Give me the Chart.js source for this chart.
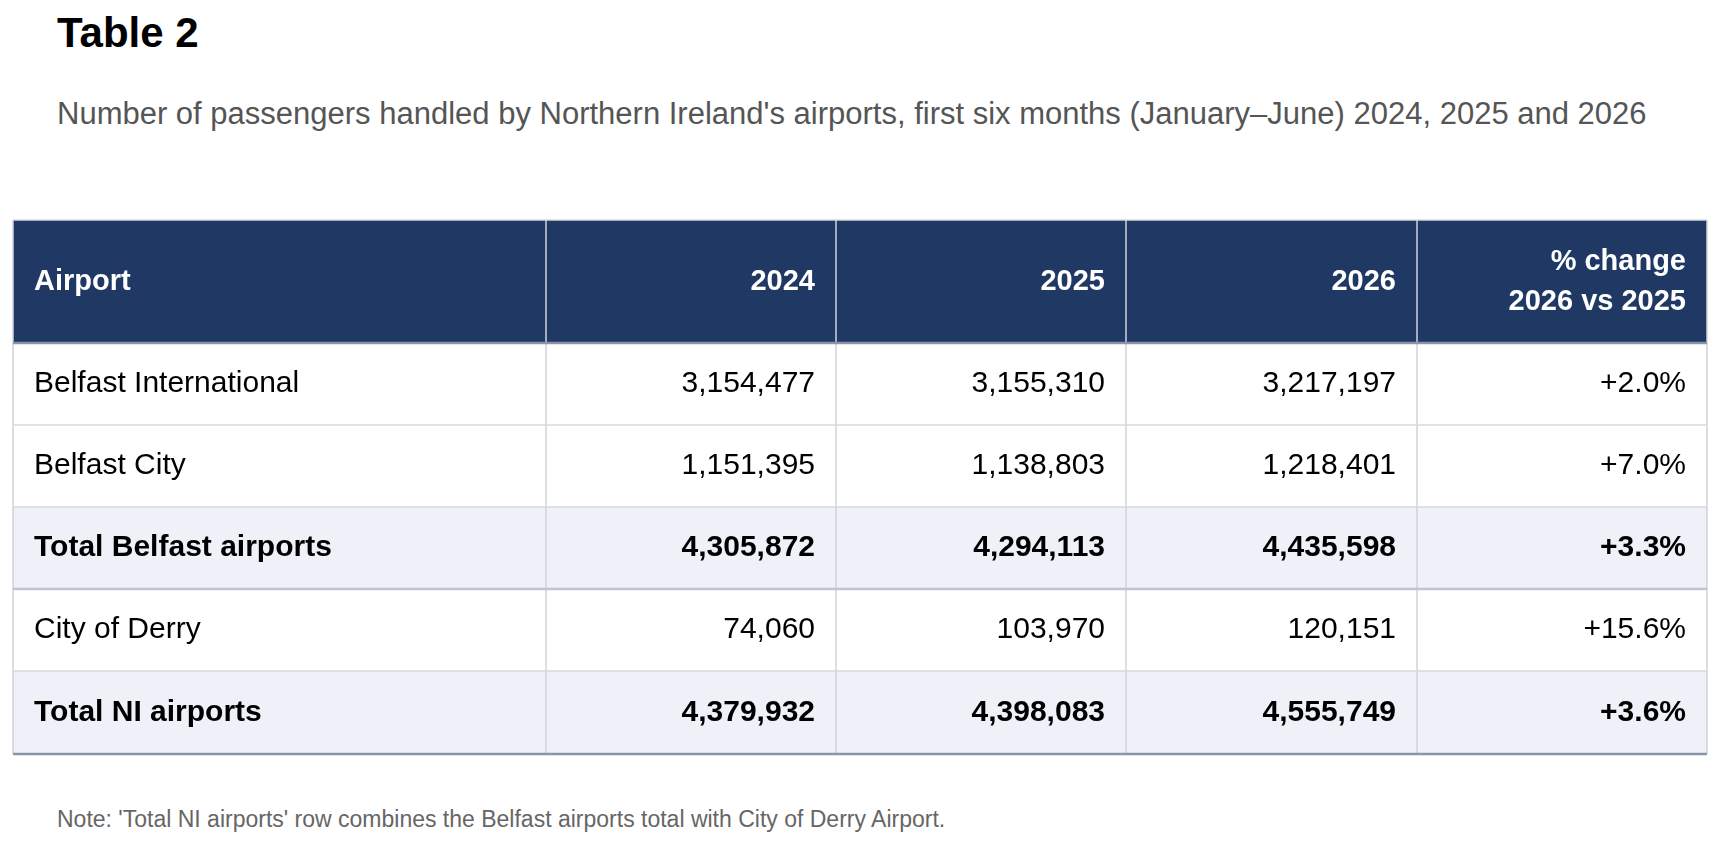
<!DOCTYPE html>
<html>
<head>
<meta charset="utf-8">
<script src="https://cdn.jsdelivr.net/npm/chart.js@4"></script>
<style>
  body { margin: 0; background: #fff; font-family: "Liberation Sans", Arial, sans-serif; width: 1716px; height: 846px; position: relative; overflow: hidden; }
  h1 { position: absolute; left: 57px; top: 9px; margin: 0; font-size: 42px; font-weight: bold; color: #000; }
  .sub { position: absolute; left: 57px; top: 93px; width: 1620px; margin: 0; font-size: 31px; line-height: 41px; color: #555; }
  .note { position: absolute; left: 57px; top: 806px; margin: 0; font-size: 23px; color: #666; }
  #wrap { position: absolute; left: 11px; top: 218px; width: 1698px; height: 540px; }
</style>
</head>
<body>
<h1>Table 2</h1>
<p class="sub">Number of passengers handled by Northern Ireland's airports, first six months (January–June) 2024, 2025 and 2026</p>
<div id="wrap"><canvas id="tbl" width="1698" height="540"></canvas></div>
<p class="note">Note: 'Total NI airports' row combines the Belfast airports total with City of Derry Airport.</p>
<script>
// Table data
const headers = ['Airport', '2024', '2025', '2026', '% change\n2026 vs 2025'];
const airports = ['Belfast International', 'Belfast City', 'Total Belfast airports', 'City of Derry', 'Total NI airports'];
const pax2024 = [3154477, 1151395, 4305872, 74060, 4379932];
const pax2025 = [3155310, 1138803, 4294113, 103970, 4398083];
const pax2026 = [3217197, 1218401, 4435598, 120151, 4555749];
const pctChange = ['+2.0%', '+7.0%', '+3.3%', '+15.6%', '+3.6%'];
const totalRows = [false, false, true, false, true];

// Layout in scale units (column and row edges)
const colEdges = [0, 533, 823, 1113, 1404, 1694];
const rowEdges = [0, 123, 205, 287, 369, 451, 534];
const W = 1694, H = 534;

const fmt = n => n.toLocaleString('en-GB');

const tablePlugin = {
  id: 'tablePlugin',
  afterDraw(chart) {
    const ctx = chart.ctx;
    const xs = chart.scales.x, ys = chart.scales.y;
    const X = v => xs.getPixelForValue(v);
    const Y = v => ys.getPixelForValue(v);
    ctx.save();
    // header
    ctx.fillStyle = '#1f3864';
    ctx.fillRect(X(0), Y(rowEdges[0]), X(W) - X(0), Y(rowEdges[1]) - Y(rowEdges[0]));
    ctx.font = 'bold 29px "Liberation Sans", Arial';
    ctx.fillStyle = '#fff';
    ctx.textBaseline = 'middle';
    headers.forEach((h, c) => {
      const lines = h.split('\n');
      const mid = (Y(rowEdges[0]) + Y(rowEdges[1])) / 2;
      lines.forEach((ln, i) => {
        const yy = mid + (i - (lines.length - 1) / 2) * 40;
        if (c === 0) { ctx.textAlign = 'left'; ctx.fillText(ln, X(colEdges[0]) + 21, yy); }
        else { ctx.textAlign = 'right'; ctx.fillText(ln, X(colEdges[c + 1]) - 21, yy); }
      });
    });
    // body rows
    airports.forEach((a, r) => {
      const top = Y(rowEdges[r + 1]), bot = Y(rowEdges[r + 2]);
      if (totalRows[r]) {
        ctx.fillStyle = '#eef1f8';
        ctx.fillRect(X(0), top, X(W) - X(0), bot - top);
      }
      const cells = [a, fmt(pax2024[r]), fmt(pax2025[r]), fmt(pax2026[r]), pctChange[r]];
      ctx.font = (totalRows[r] ? 'bold ' : '') + '30px "Liberation Sans", Arial';
      ctx.fillStyle = '#000';
      const mid = (top + bot) / 2;
      cells.forEach((t, c) => {
        if (c === 0) { ctx.textAlign = 'left'; ctx.fillText(t, X(colEdges[0]) + 21, mid); }
        else { ctx.textAlign = 'right'; ctx.fillText(t, X(colEdges[c + 1]) - 21, mid); }
      });
    });
    // grid lines
    ctx.strokeStyle = '#cfd3da';
    ctx.lineWidth = 1.5;
    colEdges.forEach(c => {
      ctx.beginPath(); ctx.moveTo(X(c), Y(0)); ctx.lineTo(X(c), Y(H)); ctx.stroke();
    });
    rowEdges.forEach((r, i) => {
      ctx.strokeStyle = (i === 1 || i === 6) ? '#8a96a8' : (i === 4 ? '#c0c4cc' : '#d6d9de');
      ctx.lineWidth = (i === 1 || i === 4 || i === 6) ? 2.5 : 1.5;
      ctx.beginPath(); ctx.moveTo(X(0), Y(r)); ctx.lineTo(X(W), Y(r)); ctx.stroke();
    });
    ctx.restore();
  }
};

new Chart(document.getElementById('tbl'), {
  type: 'scatter',
  data: { datasets: [{ data: [] }] },
  options: {
    responsive: false,
    animation: false,
    layout: { padding: { left: 2, right: 2, top: 2, bottom: 4 } },
    plugins: { legend: { display: false }, tooltip: { enabled: false } },
    scales: {
      x: { type: 'linear', min: 0, max: W, display: false },
      y: { type: 'linear', min: 0, max: H, reverse: true, display: false }
    }
  },
  plugins: [tablePlugin]
});
</script>
</body>
</html>
